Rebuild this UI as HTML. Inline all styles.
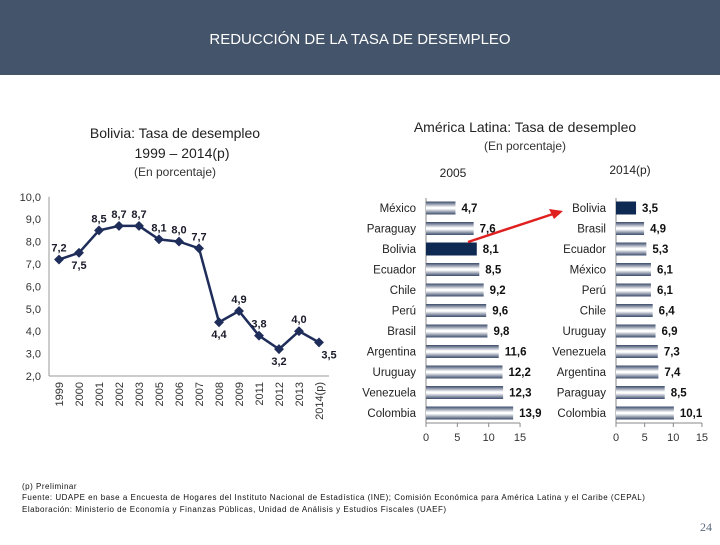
<!DOCTYPE html>
<html><head><meta charset="utf-8"><style>
body{margin:0;width:720px;height:540px;overflow:hidden;background:#fff;font-family:"Liberation Sans",sans-serif}
</style></head><body>
<svg width="720" height="540" viewBox="0 0 720 540" xmlns="http://www.w3.org/2000/svg">
<defs>
<linearGradient id="bg" x1="0" y1="0" x2="0" y2="1">
<stop offset="0" stop-color="#3a4a6a"/><stop offset="0.45" stop-color="#ffffff"/><stop offset="0.55" stop-color="#ffffff"/><stop offset="1" stop-color="#3a4a6a"/>
</linearGradient>
</defs>
<rect x="0" y="0" width="720" height="75" fill="#44546a"/>
<text x="360" y="44" text-anchor="middle" fill="#fff" font-size="15">REDUCCIÓN DE LA TASA DE DESEMPLEO</text>
<text x="175" y="138" text-anchor="middle" font-size="14" fill="#222">Bolivia: Tasa de desempleo</text>
<text x="182" y="158" text-anchor="middle" font-size="14" fill="#222">1999 – 2014(p)</text>
<text x="175" y="176" text-anchor="middle" font-size="12" fill="#333">(En porcentaje)</text>
<text x="525" y="132" text-anchor="middle" font-size="14" fill="#222">América Latina: Tasa de desempleo</text>
<text x="525" y="150" text-anchor="middle" font-size="12" fill="#333">(En porcentaje)</text>
<text x="453" y="177" text-anchor="middle" font-size="12" fill="#222">2005</text>
<text x="630" y="174" text-anchor="middle" font-size="12" fill="#222">2014(p)</text>
<g id="line-chart"></g>
<g id="bars1"></g>
<g id="bars2"></g>
<line x1="468" y1="242" x2="553" y2="214" stroke="#e02020" stroke-width="2.5"/>
<polygon points="563,211 549,209 554,219" fill="#e02020"/>
<text x="22" y="489" font-size="8" letter-spacing="0.5" fill="#111">(p) Preliminar</text>
<text x="22" y="500" font-size="8" letter-spacing="0.5" fill="#111">Fuente: UDAPE en base a Encuesta de Hogares del Instituto Nacional de Estadística (INE); Comisión Económica para América Latina y el Caribe (CEPAL)</text>
<text x="22" y="512" font-size="8" letter-spacing="0.5" fill="#111">Elaboración: Ministerio de Economía y Finanzas Públicas, Unidad de Análisis y Estudios Fiscales (UAEF)</text>
<text x="712" y="531" text-anchor="end" font-size="12" fill="#5a6a80" font-family="Liberation Serif,serif">24</text>
</svg>
<script>
const years=["1999","2000","2001","2002","2003","2005","2006","2007","2008","2009","2011","2012","2013","2014(p)"];
const rates=[7.2,7.5,8.5,8.7,8.7,8.1,8.0,7.7,4.4,4.9,3.8,3.2,4.0,3.5];
const yTicks=[2,3,4,5,6,7,8,9,10];
const labelBelow=[false,true,false,false,false,false,false,false,true,false,false,true,false,true];
const countries2005=["México","Paraguay","Bolivia","Ecuador","Chile","Perú","Brasil","Argentina","Uruguay","Venezuela","Colombia"];
const values2005=[4.7,7.6,8.1,8.5,9.2,9.6,9.8,11.6,12.2,12.3,13.9];
const countries2014=["Bolivia","Brasil","Ecuador","México","Perú","Chile","Uruguay","Venezuela","Argentina","Paraguay","Colombia"];
const values2014=[3.5,4.9,5.3,6.1,6.1,6.4,6.9,7.3,7.4,8.5,10.1];
const xTicksBar=[0,5,10,15];
const NS="http://www.w3.org/2000/svg";
function mk(p,t,a,txt){const e=document.createElementNS(NS,t);for(const k in a)e.setAttribute(k,a[k]);if(txt!==undefined)e.textContent=txt;p.appendChild(e);return e;}
const fmt=v=>v.toFixed(1).replace('.',',');
const lc=document.getElementById('line-chart');
const X=i=>59+i*20, Y=v=>376-(v-2)*22.4;
mk(lc,'line',{x1:49,y1:Y(10),x2:49,y2:Y(2),stroke:'#999','stroke-width':1});
mk(lc,'line',{x1:49,y1:Y(2),x2:329,y2:Y(2),stroke:'#999','stroke-width':1});
yTicks.forEach(t=>{const e=mk(lc,'text',{x:41,y:Y(t)+4,'text-anchor':'end','font-size':11,fill:'#333'},fmt(t));

});
years.forEach((y,i)=>{const e=mk(lc,'text',{transform:`translate(${X(i)+4},${Y(2)+6}) rotate(-90)`,'text-anchor':'end','font-size':11,fill:'#333'},y);

});
const pl=mk(lc,'polyline',{points:rates.map((v,i)=>X(i)+','+Y(v)).join(' '),fill:'none',stroke:'#1f2d5a','stroke-width':2.5});


rates.forEach((v,i)=>{const m=mk(lc,'rect',{x:X(i)-3.5,y:Y(v)-3.5,width:7,height:7,fill:'#1f2d5a',transform:`rotate(45 ${X(i)} ${Y(v)})`});


const t=mk(lc,'text',{x:X(i)+(i===13?10:0),y:labelBelow[i]?Y(v)+16:Y(v)-8,'text-anchor':'middle','font-size':11,'font-weight':'bold',fill:'#1a1a2a'},fmt(v));

});
function bars(id,names,vals,x0,ppu,hi){const g=document.getElementById(id);
const R=i=>208+i*20.5;
mk(g,'line',{x1:x0,y1:198,x2:x0,y2:423,stroke:'#888'});
mk(g,'line',{x1:x0,y1:423,x2:x0+15*ppu,y2:423,stroke:'#888'});
xTicksBar.forEach(t=>{mk(g,'line',{x1:x0+t*ppu,y1:423,x2:x0+t*ppu,y2:427,stroke:'#888'});
const e=mk(g,'text',{x:x0+t*ppu,y:441,'text-anchor':'middle','font-size':11,fill:'#333'},t);

});
names.forEach((n,i)=>{const b=mk(g,'rect',{x:x0,y:R(i)-6.5,width:vals[i]*ppu,height:13,fill:n===hi?'#0f2a52':'url(#bg)'});


const l=mk(g,'text',{x:x0-10,y:R(i)+4,'text-anchor':'end','font-size':11.5,fill:'#222'},n);


const v=mk(g,'text',{x:x0+vals[i]*ppu+6,y:R(i)+4,'font-size':11.5,'font-weight':'bold',fill:'#111'},fmt(vals[i]));

});}
bars('bars1',countries2005,values2005,426,6.27,'Bolivia');
bars('bars2',countries2014,values2014,616,5.73,'Bolivia');
</script>
</body></html>
